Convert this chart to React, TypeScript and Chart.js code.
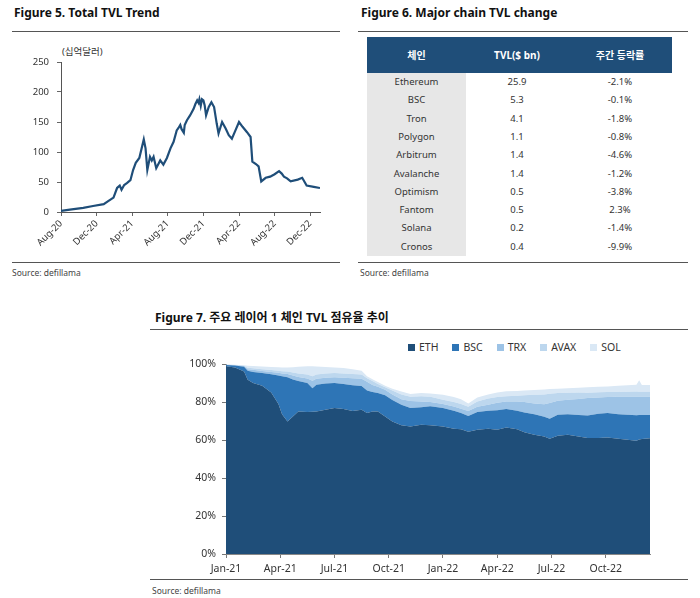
import React, { useEffect, useRef } from "react";
import { Chart, registerables } from "chart.js";

Chart.register(...registerables);

const FONT = '"Noto Sans", "Noto Sans CJK KR", sans-serif';

// ---------- Figure 5: Total TVL trend (months since Aug-20, $bn) ----------
const tvlTickMonths = [0, 4, 8, 12, 16, 20, 24, 28];
const tvlTickLabels = ["Aug-20", "Dec-20", "Apr-21", "Aug-21", "Dec-21", "Apr-22", "Aug-22", "Dec-22"];
const tvlYTicks = [0, 50, 100, 150, 200, 250];
const tvlMonths = [
  0, 1.0, 2.5, 3.6, 4.8, 5.3, 5.9, 6.3, 6.6, 6.8, 7.1, 7.4, 7.8, 8.1, 8.4, 8.8, 9.3, 9.5, 9.7, 10.0, 10.2, 10.4,
  10.7, 11.15, 11.5, 11.9, 12.3, 12.65, 13.0, 13.2, 13.4, 13.55, 13.8, 13.9, 14.15, 14.5, 14.9, 15.1, 15.3, 15.45,
  15.55, 15.7, 15.84, 16.0, 16.14, 16.3, 16.6, 16.9, 17.2, 17.5, 17.7, 18.1, 18.5, 18.85, 19.2, 19.6, 20.0, 20.4,
  20.9, 21.3, 21.5, 21.9, 22.2, 22.5, 23.0, 23.5, 24.0, 24.5, 24.8, 25.05, 25.4, 25.8, 26.6, 27.1, 27.6, 28.4, 29.1,
];
const tvlValues = [
  2, 4, 7, 10, 13, 18, 24, 40, 44, 37, 45, 48, 53, 70, 82, 90, 121, 106, 70, 92, 86, 92,
  73, 86, 79, 90, 106, 117, 136, 140, 145, 138, 132, 145, 153, 161, 172, 180, 186, 182,
  188, 177, 188, 186, 178, 161, 175, 183, 175, 147, 131, 150, 139, 128, 122, 136, 150, 142,
  133, 125, 84, 80, 76, 51, 57, 59, 63, 68, 64, 59, 56, 51, 54, 57, 44, 42, 40,
];

// ---------- Figure 6: Major chain TVL change ----------
const tableHeaders = ["체인", "TVL($ bn)", "주간 등락률"];
const chainNames = ["Ethereum", "BSC", "Tron", "Polygon", "Arbitrum", "Avalanche", "Optimism", "Fantom", "Solana", "Cronos"];
const chainTvl = ["25.9", "5.3", "4.1", "1.1", "1.4", "1.4", "0.5", "0.5", "0.2", "0.4"];
const chainChange = ["-2.1%", "-0.1%", "-1.8%", "-0.8%", "-4.6%", "-1.2%", "-3.8%", "2.3%", "-1.4%", "-9.9%"];

// ---------- Figure 7: L1 chain TVL share (months since Jan-21, %) ----------
const shareTickMonths = [0, 3, 6, 9, 12, 15, 18, 21];
const shareTickLabels = ["Jan-21", "Apr-21", "Jul-21", "Oct-21", "Jan-22", "Apr-22", "Jul-22", "Oct-22"];
const shareYTicks = [0, 20, 40, 60, 80, 100];
const shareMonths = [
  0, 0.5, 1.0, 1.2, 1.5, 2.0, 2.5, 2.9, 3.1, 3.4, 3.7, 4.0, 4.5, 4.78, 5.0, 5.5, 6.0, 6.5, 7.0, 7.5,
  7.8, 8.1, 8.4, 8.8, 9.2, 9.7, 10.2, 10.8, 11.3, 12.0, 12.6, 13.0, 13.4, 13.9, 14.5, 15.0, 15.5, 16.1,
  16.5, 17.05, 17.6, 17.9, 18.35, 18.9, 19.5, 20.0, 20.6, 21.1, 21.7, 22.2, 22.7, 22.85, 23.0, 23.45,
];
const ethShare = [
  98.8, 98.2, 96.0, 91.7, 90.0, 88.5, 85.0, 79.0, 73.5, 69.8, 72.4, 75.0, 74.7, 74.9, 75.0, 75.9, 76.8, 76.3, 75.2, 75.9,
  74.2, 75.0, 75.0, 72.4, 69.8, 67.7, 67.1, 68.0, 67.7, 67.1, 65.9, 65.6, 64.3, 65.4, 65.9, 65.4, 66.6, 65.6,
  64.1, 62.7, 61.9, 60.6, 62.2, 62.7, 61.9, 61.0, 61.0, 61.3, 60.6, 60.1, 59.6, 60.3, 60.5, 60.9,
];
const bscShare = [
  0.7, 1.0, 2.6, 4.8, 5.8, 6.7, 9.6, 15.0, 20.0, 23.2, 19.4, 16.0, 15.3, 12.4, 14.1, 13.9, 13.2, 13.2, 13.6, 12.5,
  11.8, 10.2, 9.7, 11.1, 11.2, 10.8, 9.7, 9.2, 10.0, 9.7, 9.5, 8.6, 8.3, 9.3, 9.5, 10.2, 9.7, 9.8,
  10.4, 10.9, 10.4, 10.6, 11.1, 10.9, 11.3, 11.9, 12.8, 12.9, 13.0, 13.2, 13.4, 12.9, 12.7, 12.3,
];
const trxShare = [
  0.1, 0.2, 0.3, 0.8, 1.2, 1.1, 1.2, 1.4, 1.5, 1.8, 2.2, 2.2, 2.4, 3.9, 3.1, 3.0, 3.0, 3.3, 3.7, 3.9,
  4.6, 3.8, 3.3, 3.0, 3.0, 3.0, 3.7, 3.1, 2.3, 2.1, 2.2, 2.3, 2.6, 2.8, 3.2, 4.0, 4.0, 4.9,
  5.5, 5.6, 6.5, 8.3, 7.3, 7.6, 8.4, 9.2, 8.6, 8.4, 9.1, 9.5, 9.8, 9.6, 9.6, 9.6,
];
const avaxShare = [
  0.1, 0.1, 0.2, 0.7, 0.8, 0.9, 1.0, 1.1, 1.2, 1.2, 1.5, 1.8, 2.1, 2.3, 2.3, 2.2, 2.2, 2.2, 2.2, 2.2,
  1.9, 2.0, 1.5, 1.3, 2.0, 2.5, 2.3, 2.7, 2.8, 2.3, 2.4, 2.5, 2.3, 2.7, 3.2, 3.0, 2.7, 3.0,
  3.5, 4.6, 5.2, 4.8, 4.1, 3.7, 3.4, 2.8, 2.7, 2.6, 2.6, 2.6, 2.7, 2.6, 2.6, 2.6,
];
const solShare = [
  0.1, 0.1, 0.2, 1.1, 1.1, 1.5, 1.6, 1.8, 2.0, 2.2, 2.8, 3.5, 4.3, 5.3, 4.2, 3.4, 3.0, 2.9, 2.5, 2.0,
  1.0, 1.0, 1.0, 0.7, 1.0, 1.5, 1.4, 1.7, 1.7, 2.6, 2.6, 2.5, 1.7, 2.2, 2.2, 2.4, 2.6, 2.5,
  2.5, 2.5, 2.6, 2.6, 2.3, 2.4, 2.5, 2.8, 2.9, 3.0, 3.2, 3.4, 3.6, 6.0, 3.6, 3.5,
];
const shareSeriesNames = ["ETH", "BSC", "TRX", "AVAX", "SOL"];
const shareSeriesValues = [ethShare, bscShare, trxShare, avaxShare, solShare];
const shareColors = ["#1f4e79", "#2e75b6", "#9dc3e6", "#bdd7ee", "#dae8f5"];

function Txt(props: { x: number; cy: number; size: number; bold?: boolean; color?: string; children: React.ReactNode }) {
  return (
    <div
      style={{
        position: "absolute",
        left: props.x,
        top: props.cy - 9,
        height: 18,
        lineHeight: "18px",
        fontSize: props.size,
        fontWeight: props.bold ? 700 : 400,
        color: props.color || "#222",
        whiteSpace: "nowrap",
      }}
    >
      {props.children}
    </div>
  );
}

function HLine(props: { x: number; y: number; w: number }) {
  return <div style={{ position: "absolute", left: props.x, top: props.y, width: props.w, height: 1, background: "#555" }} />;
}

export default function App() {
  const c1 = useRef<HTMLCanvasElement>(null);
  const c2 = useRef<HTMLCanvasElement>(null);

  useEffect(() => {
    const tickFont = { family: FONT, size: 9.5 };
    const ch1 = new Chart(c1.current as HTMLCanvasElement, {
      type: "line",
      data: {
        datasets: [
          {
            data: tvlMonths.map((m, i) => ({ x: m, y: tvlValues[i] })),
            borderColor: "#1f4e79",
            borderWidth: 2.2,
            pointRadius: 0,
            tension: 0,
            fill: false,
          },
        ],
      },
      options: {
        animation: false,
        responsive: false,
        maintainAspectRatio: false,
        layout: { padding: { top: 27, right: 20, left: 0, bottom: 0 } },
        plugins: { legend: { display: false }, tooltip: { enabled: false } },
        scales: {
          x: {
            type: "linear",
            min: 0,
            max: 29.1,
            afterBuildTicks: (s: any) => {
              s.ticks = tvlTickMonths.map((v) => ({ value: v }));
            },
            afterFit: (s: any) => {
              s.height = 45;
            },
            grid: { display: true, drawOnChartArea: false, drawTicks: true, tickLength: 4, color: "#666" },
            border: { display: true, color: "#555", width: 1 },
            ticks: {
              autoSkip: false,
              minRotation: 45,
              maxRotation: 45,
              padding: 2,
              font: tickFont,
              color: "#333",
              callback: (v: any) => tvlTickLabels[tvlTickMonths.indexOf(Number(v))] ?? "",
            },
          },
          y: {
            min: 0,
            max: 250,
            afterBuildTicks: (s: any) => {
              s.ticks = tvlYTicks.map((v) => ({ value: v }));
            },
            afterFit: (s: any) => {
              s.width = 61;
            },
            grid: { display: true, drawOnChartArea: false, drawTicks: true, tickLength: 4, color: "#666" },
            border: { display: true, color: "#555", width: 1 },
            ticks: { padding: 8, font: tickFont, color: "#333" },
          },
        },
      },
    } as any);

    const shareFont = { family: FONT, size: 10.5 };
    const ch2 = new Chart(c2.current as HTMLCanvasElement, {
      type: "line",
      data: {
        datasets: shareSeriesNames.map((name, k) => ({
          label: name,
          data: shareMonths.map((m, i) => ({ x: m, y: shareSeriesValues[k][i] })),
          backgroundColor: shareColors[k],
          borderColor: shareColors[k],
          borderWidth: 0,
          pointRadius: 0,
          tension: 0,
          fill: k === 0 ? "origin" : "-1",
        })),
      },
      options: {
        animation: false,
        responsive: false,
        maintainAspectRatio: false,
        layout: { padding: { top: 29, right: 38, left: 0, bottom: 0 } },
        plugins: { legend: { display: false }, tooltip: { enabled: false } },
        scales: {
          x: {
            type: "linear",
            min: 0,
            max: 23.45,
            afterBuildTicks: (s: any) => {
              s.ticks = shareTickMonths.map((v) => ({ value: v }));
            },
            afterFit: (s: any) => {
              s.height = 25;
            },
            grid: { display: true, drawOnChartArea: false, drawTicks: true, tickLength: 4, color: "#777" },
            border: { display: true, color: "#888", width: 1 },
            ticks: {
              autoSkip: false,
              maxRotation: 0,
              minRotation: 0,
              padding: 5,
              font: shareFont,
              color: "#333",
              callback: (v: any) => shareTickLabels[shareTickMonths.indexOf(Number(v))] ?? "",
            },
          },
          y: {
            stacked: true,
            min: 0,
            max: 100,
            afterBuildTicks: (s: any) => {
              s.ticks = shareYTicks.map((v) => ({ value: v }));
            },
            afterFit: (s: any) => {
              s.width = 76;
            },
            grid: { display: true, drawOnChartArea: false, drawTicks: true, tickLength: 4, color: "#777" },
            border: { display: true, color: "#888", width: 1 },
            ticks: { padding: 6, font: shareFont, color: "#333", callback: (v: any) => `${v}%` },
          },
        },
      },
    } as any);

    return () => {
      ch1.destroy();
      ch2.destroy();
    };
  }, []);

  const colW = [99, 102, 104];
  const colX = [0, 99, 201];
  const rowH = 18.3;

  return (
    <div
      style={{
        position: "absolute",
        left: 0,
        top: 0,
        width: 700,
        height: 598,
        background: "#fff",
        fontFamily: FONT,
        overflow: "hidden",
      }}
    >
      {/* Figure 5 */}
      <Txt x={14} cy={13} size={12} bold color="#111">
        Figure 5. Total TVL Trend
      </Txt>
      <HLine x={12} y={31} w={328} />
      <Txt x={62} cy={52} size={9.5} color="#333">
        (십억달러)
      </Txt>
      <canvas ref={c1} width={340} height={222} style={{ position: "absolute", left: 0, top: 35 }} />
      <HLine x={12} y={262} w={328} />
      <Txt x={12} cy={273} size={8.5} color="#444">
        Source: defillama
      </Txt>

      {/* Figure 6 */}
      <Txt x={361} cy={13} size={12} bold color="#111">
        Figure 6. Major chain TVL change
      </Txt>
      <HLine x={358} y={31} w={330} />
      <div style={{ position: "absolute", left: 367, top: 37, width: 305, height: 36, background: "#1f4e79" }}>
        {tableHeaders.map((h, i) => (
          <div
            key={h}
            style={{
              position: "absolute",
              left: colX[i],
              width: colW[i],
              top: 0,
              height: 36,
              lineHeight: "36px",
              textAlign: "center",
              color: "#fff",
              fontWeight: 700,
              fontSize: 10,
            }}
          >
            {h}
          </div>
        ))}
      </div>
      <div style={{ position: "absolute", left: 367, top: 73, width: 99, height: rowH * chainNames.length, background: "#e7e7e7" }} />
      {chainNames.map((name, r) =>
        [name, chainTvl[r], chainChange[r]].map((cell, i) => (
          <div
            key={`${r}-${i}`}
            style={{
              position: "absolute",
              left: 367 + colX[i],
              width: colW[i],
              top: 73 + r * rowH,
              height: rowH,
              lineHeight: `${rowH}px`,
              textAlign: "center",
              fontSize: 9.5,
              color: "#333",
            }}
          >
            {cell}
          </div>
        ))
      )}
      <HLine x={358} y={262} w={330} />
      <Txt x={360} cy={273} size={8.5} color="#444">
        Source: defillama
      </Txt>

      {/* Figure 7 */}
      <Txt x={155} cy={318} size={12} bold color="#111">
        Figure 7. 주요 레이어 1 체인 TVL 점유율 추이
      </Txt>
      <HLine x={150} y={329} w={538} />
      <div
        style={{
          position: "absolute",
          left: 408,
          top: 338,
          height: 18,
          display: "flex",
          alignItems: "center",
          gap: 14,
          fontSize: 10.5,
          color: "#333",
          whiteSpace: "nowrap",
        }}
      >
        {shareSeriesNames.map((n, k) => (
          <div key={n} style={{ display: "flex", alignItems: "center" }}>
            <span style={{ display: "inline-block", width: 7, height: 7, background: shareColors[k], marginRight: 4 }} />
            <span>{n}</span>
          </div>
        ))}
      </div>
      <canvas ref={c2} width={538} height={244} style={{ position: "absolute", left: 150, top: 335 }} />
      <HLine x={150} y={579} w={538} />
      <Txt x={152} cy={591} size={8.5} color="#444">
        Source: defillama
      </Txt>
    </div>
  );
}
